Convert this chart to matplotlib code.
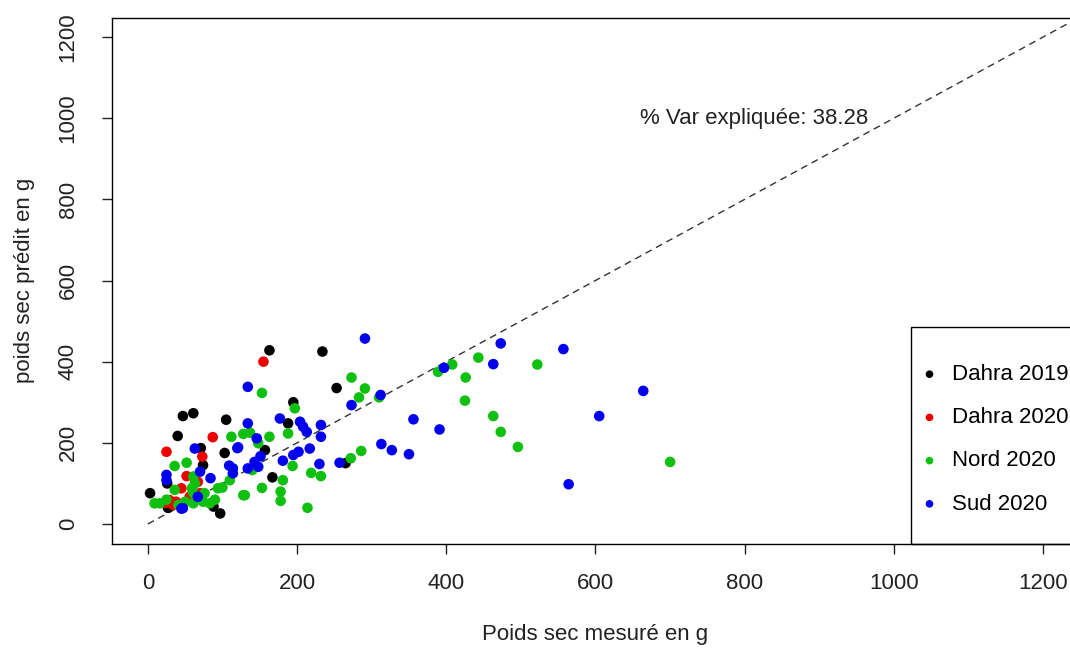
import numpy as np
import matplotlib
matplotlib.use('Agg')
from matplotlib import pyplot as plt
from matplotlib.patches import Rectangle

# poids sec mesure (x) / predit (y), en g
dahra19_x = [3, 47, 61, 40, 105, 71, 103, 74, 26, 163, 234, 195, 253, 188, 157, 167, 265, 88, 97, 27]
dahra19_y = [76, 266, 273, 217, 257, 187, 175, 145, 100, 428, 425, 300, 335, 248, 182, 115, 150, 43, 26, 40]

dahra20_x = [155, 87, 25, 52, 73, 45, 29, 24, 34, 67, 56, 70, 38]
dahra20_y = [400, 214, 178, 118, 166, 88, 59, 52, 47, 104, 67, 76, 55]

nord20_x = [153, 197, 188, 163, 137, 148, 112, 128, 194, 219, 232, 181, 178, 178, 153, 214, 130, 140, 110,
            273, 291, 283, 310, 389, 408, 426, 425, 443, 286, 272,
            522, 463, 473, 496, 700,
            36, 52, 36, 9, 16, 50, 61, 61, 41, 59, 63, 76, 74, 94, 128, 61, 83, 25, 90, 100]
nord20_y = [323, 285, 223, 215, 225, 199, 215, 222, 143, 126, 118, 108, 80, 57, 89, 40, 71, 133, 108,
            361, 334, 312, 312, 375, 393, 361, 304, 410, 180, 162,
            393, 266, 227, 190, 153,
            143, 151, 84, 51, 51, 55, 76, 117, 47, 88, 100, 76, 55, 88, 71, 51, 51, 60, 60, 90]

sud20_x = [134, 177, 204, 208, 213, 232, 232, 134, 146, 217, 202, 195, 151, 181, 230, 257, 134, 148, 143,
           120, 114, 114, 109,
           291, 312, 273, 397, 356, 391, 313, 327, 350,
           473, 557, 463, 664, 605, 564,
           25, 25, 47, 63, 121, 70, 84, 67, 45]
sud20_y = [338, 260, 252, 240, 227, 244, 215, 248, 211, 186, 178, 170, 167, 156, 148, 151, 137, 141, 153,
           187, 137, 125, 144,
           457, 318, 293, 385, 258, 233, 197, 182, 172,
           445, 431, 394, 328, 266, 98,
           121, 108, 39, 186, 189, 129, 113, 67, 38]

groups = ['Dahra 2019', 'Dahra 2020', 'Nord 2020', 'Sud 2020']
colors = ['black', '#EE0000', '#10C010', '#0000EE']
var_expl = 38.28

plt.rcParams['font.family'] = ['Liberation Sans', 'DejaVu Sans']

fig = plt.figure(figsize=(10.7, 6.52), dpi=100)
ax = fig.add_axes([112 / 1070, 108.5 / 652, 967 / 1070, 526 / 652])

series = [(dahra19_x, dahra19_y), (dahra20_x, dahra20_y), (nord20_x, nord20_y), (sud20_x, sud20_y)]
for (xs, ys), col, lab in zip(series, colors, groups):
    ax.scatter(xs, ys, s=58, color=col, edgecolors='none', label=lab, zorder=3)

ax.plot([0, 1300], [0, 1300], color='#333333', lw=1, dashes=(5, 3.5), zorder=2)
ax.text(813, 1000, '% Var expliquée: ' + str(var_expl), fontsize=16, ha='center', va='center', color='#222222')

ax.set_xlim(-48, 1248)
ax.set_ylim(-48, 1248)
ticks = np.arange(0, 1201, 200)
ax.set_xticks(ticks)
ax.set_yticks(ticks)
ax.tick_params(length=7, width=1, labelsize=16, colors='#222222')
ax.tick_params(axis='x', pad=14)
ax.tick_params(axis='y', pad=17)
for lbl in ax.get_yticklabels():
    lbl.set_rotation(90)
    lbl.set_va('center')
for sp in ax.spines.values():
    sp.set_linewidth(1)

ax.set_xlabel('Poids sec mesuré en g', fontsize=16, labelpad=22, color='#222222')
ax.set_ylabel('poids sec prédit en g', fontsize=16, labelpad=16, color='#222222')

# cadre de la legende
ax.add_patch(Rectangle((0.826, 0), 0.3, 0.4116, transform=ax.transAxes, fill=False,
                       ec='black', lw=1, clip_on=False, zorder=4))
ax.legend(loc='center left', bbox_to_anchor=(0.8385, 0.198), frameon=False, fontsize=16,
          borderpad=0, borderaxespad=0, handlelength=0.6, handletextpad=0.7, labelspacing=1.0,
          markerscale=0.72, scatterpoints=1)

fig.savefig('out.png', dpi=100)
